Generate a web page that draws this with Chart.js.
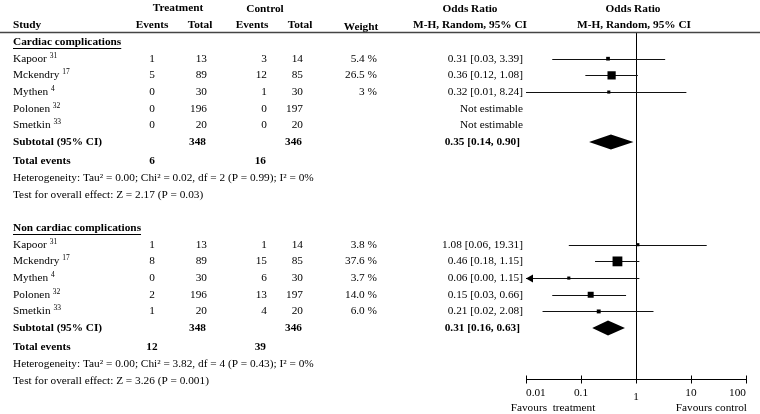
<!DOCTYPE html>
<html>
<head>
<meta charset="utf-8">
<script src="https://cdn.jsdelivr.net/npm/chart.js@4.4.1/dist/chart.umd.min.js"></script>
<style>
  html, body { margin: 0; padding: 0; background: #fff; }
  #wrap { width: 760px; height: 414px; }
</style>
</head>
<body>
<div id="wrap"><canvas id="forest"></canvas></div>
<script>
// trials (same five in both subgroups)
const studies = ['Kapoor', 'Mckendry', 'Mythen', 'Polonen', 'Smetkin'];
const studyRefs = ['31', '17', '4', '32', '33'];

// Cardiac complications
const cardTrtEvents = [1, 5, 0, 0, 0];
const cardTrtTotal = [13, 89, 30, 196, 20];
const cardCtlEvents = [3, 12, 1, 0, 0];
const cardCtlTotal = [14, 85, 30, 197, 20];
const cardWeight = [5.4, 26.5, 3, null, null];
const cardWeightLabels = ['5.4 %', '26.5 %', '3 %', '', ''];
const cardOR = [0.31, 0.36, 0.32, null, null];
const cardLow = [0.03, 0.12, 0.01, null, null];
const cardHigh = [3.39, 1.08, 8.24, null, null];
const cardPooled = [0.35, 0.14, 0.90];          // OR, low, high
const cardTotals = [348, 346];
const cardTotalEvents = [6, 16];
const cardHetero = 'Heterogeneity: Tau² = 0.00; Chi² = 0.02, df = 2 (P = 0.99); I² = 0%';
const cardEffect = 'Test for overall effect: Z = 2.17 (P = 0.03)';

// Non cardiac complications
const nonTrtEvents = [1, 8, 0, 2, 1];
const nonTrtTotal = [13, 89, 30, 196, 20];
const nonCtlEvents = [1, 15, 6, 13, 4];
const nonCtlTotal = [14, 85, 30, 197, 20];
const nonWeight = [3.8, 37.6, 3.7, 14.0, 6.0];
const nonWeightLabels = ['3.8 %', '37.6 %', '3.7 %', '14.0 %', '6.0 %'];
const nonOR = [1.08, 0.46, 0.06, 0.15, 0.21];
const nonLow = [0.06, 0.18, 0.00, 0.03, 0.02];
const nonHigh = [19.31, 1.15, 1.15, 0.66, 2.08];
const nonPooled = [0.31, 0.16, 0.63];
const nonTotals = [348, 346];
const nonTotalEvents = [12, 39];
const nonHetero = 'Heterogeneity: Tau² = 0.00; Chi² = 3.82, df = 4 (P = 0.43); I² = 0%';
const nonEffect = 'Test for overall effect: Z = 3.26 (P = 0.001)';

const axisTicks = [0.01, 0.1, 1, 10, 100];
const axisTickLabels = ['0.01', '0.1', '1', '10', '100'];

// layout: row positions in "line" units (y scale), column x in px
function rowsFrom(h) {
  return {
    heading: h,
    studies: [h + 1, h + 2, h + 3, h + 4, h + 5],
    subtotal: h + 6,
    events: h + 7.15,
    hetero: h + 8.15,
    effect: h + 9.15
  };
}
const sections = [
  {
    title: 'Cardiac complications', rows: rowsFrom(0.6),
    te: cardTrtEvents, tt: cardTrtTotal, ce: cardCtlEvents, ct: cardCtlTotal,
    w: cardWeight, wl: cardWeightLabels, or: cardOR, lo: cardLow, hi: cardHigh,
    pooled: cardPooled, totals: cardTotals, totEv: cardTotalEvents,
    hetero: cardHetero, effect: cardEffect
  },
  {
    title: 'Non cardiac complications', rows: rowsFrom(11.75),
    te: nonTrtEvents, tt: nonTrtTotal, ce: nonCtlEvents, ct: nonCtlTotal,
    w: nonWeight, wl: nonWeightLabels, or: nonOR, lo: nonLow, hi: nonHigh,
    pooled: nonPooled, totals: nonTotals, totEv: nonTotalEvents,
    hetero: nonHetero, effect: nonEffect
  }
];

const col = { study: 13, te: 152, tt: 207, ce: 267, ct: 303, w: 377, orTxt: 523 };
const FONT = '"Liberation Serif", "Times New Roman", serif';
const FS = 11.3;

function txt(ctx, s, x, y, align, bold, size) {
  ctx.font = (bold ? 'bold ' : '') + (size || FS) + 'px ' + FONT;
  ctx.textAlign = align || 'left';
  ctx.textBaseline = 'middle';
  ctx.fillStyle = '#000';
  ctx.fillText(s, x, y);
  return ctx.measureText(s).width;
}

function fmtCI(or, lo, hi) {
  if (or == null) return 'Not estimable';
  return or.toFixed(2) + ' [' + lo.toFixed(2) + ', ' + hi.toFixed(2) + ']';
}

const forestPlugin = {
  id: 'forest',
  beforeDatasetsDraw(chart) {
    const { ctx, chartArea, scales: { x, y } } = chart;
    ctx.save();
    // line of no effect
    const x1 = Math.round(x.getPixelForValue(1)) + 0.5;
    ctx.strokeStyle = '#000';
    ctx.lineWidth = 1;
    ctx.beginPath();
    ctx.moveTo(x1, chartArea.top);
    ctx.lineTo(x1, chartArea.bottom);
    ctx.stroke();

    // confidence intervals
    ctx.strokeStyle = '#111';
    sections.forEach(sec => {
      sec.or.forEach((v, i) => {
        if (v == null) return;
        const yy = Math.round(y.getPixelForValue(sec.rows.studies[i])) + 0.5;
        const xa = x.getPixelForValue(Math.max(sec.lo[i], x.min));
        const xb = x.getPixelForValue(Math.min(sec.hi[i], x.max));
        ctx.beginPath();
        ctx.moveTo(xa, yy);
        ctx.lineTo(xb, yy);
        ctx.stroke();
        if (sec.lo[i] < x.min) {
          ctx.fillStyle = '#000';
          ctx.beginPath();
          ctx.moveTo(xa, yy);
          ctx.lineTo(xa + 7, yy - 4);
          ctx.lineTo(xa + 7, yy + 4);
          ctx.closePath();
          ctx.fill();
        }
      });
    });
    ctx.restore();
  },
  afterDraw(chart) {
    const { ctx, scales: { x, y } } = chart;
    ctx.save();

    // header
    txt(ctx, 'Treatment', 178, 8, 'center', true);
    txt(ctx, 'Control', 265, 9, 'center', true);
    txt(ctx, 'Odds Ratio', 470, 9, 'center', true);
    txt(ctx, 'Odds Ratio', 633, 9, 'center', true);
    txt(ctx, 'Study', col.study, 25, 'left', true);
    txt(ctx, 'Events', 152, 25, 'center', true);
    txt(ctx, 'Total', 200, 25, 'center', true);
    txt(ctx, 'Events', 252, 25, 'center', true);
    txt(ctx, 'Total', 300, 25, 'center', true);
    txt(ctx, 'Weight', 361, 27, 'center', true);
    txt(ctx, 'M-H, Random, 95% CI', 470, 25, 'center', true);
    txt(ctx, 'M-H, Random, 95% CI', 634, 25, 'center', true);
    ctx.strokeStyle = '#444';
    ctx.lineWidth = 1.5;
    ctx.beginPath();
    ctx.moveTo(0, 32.5);
    ctx.lineTo(760, 32.5);
    ctx.stroke();

    sections.forEach(sec => {
      const r = sec.rows;
      const yh = y.getPixelForValue(r.heading);
      const wTitle = txt(ctx, sec.title, col.study, yh, 'left', true);
      ctx.strokeStyle = '#000';
      ctx.lineWidth = 1;
      ctx.beginPath();
      ctx.moveTo(col.study, Math.round(yh + 6) + 0.5);
      ctx.lineTo(col.study + wTitle, Math.round(yh + 6) + 0.5);
      ctx.stroke();

      studies.forEach((name, i) => {
        const yy = y.getPixelForValue(r.studies[i]);
        const wn = txt(ctx, name + ' ', col.study, yy, 'left', false);
        txt(ctx, studyRefs[i], col.study + wn, yy - 3, 'left', false, 7.5);
        txt(ctx, String(sec.te[i]), col.te, yy, 'center');
        txt(ctx, String(sec.tt[i]), col.tt, yy, 'right');
        txt(ctx, String(sec.ce[i]), col.ce, yy, 'right');
        txt(ctx, String(sec.ct[i]), col.ct, yy, 'right');
        if (sec.wl[i]) txt(ctx, sec.wl[i], col.w, yy, 'right');
        txt(ctx, fmtCI(sec.or[i], sec.lo[i], sec.hi[i]), col.orTxt, yy, 'right');
      });

      const ys = y.getPixelForValue(r.subtotal);
      txt(ctx, 'Subtotal (95% CI)', col.study, ys, 'left', true);
      txt(ctx, String(sec.totals[0]), col.tt - 1, ys, 'right', true);
      txt(ctx, String(sec.totals[1]), col.ct - 1, ys, 'right', true);
      txt(ctx, fmtCI(sec.pooled[0], sec.pooled[1], sec.pooled[2]), col.orTxt - 3, ys, 'right', true);

      // pooled diamond
      const dl = x.getPixelForValue(sec.pooled[1]);
      const dm = x.getPixelForValue(sec.pooled[0]);
      const dr = x.getPixelForValue(sec.pooled[2]);
      ctx.fillStyle = '#000';
      ctx.beginPath();
      ctx.moveTo(dl, ys);
      ctx.lineTo(dm, ys - 7.5);
      ctx.lineTo(dr, ys);
      ctx.lineTo(dm, ys + 7.5);
      ctx.closePath();
      ctx.fill();

      const ye = y.getPixelForValue(r.events);
      txt(ctx, 'Total events', col.study, ye, 'left', true);
      txt(ctx, String(sec.totEv[0]), col.te, ye, 'center', true);
      txt(ctx, String(sec.totEv[1]), col.ce - 1, ye, 'right', true);
      txt(ctx, sec.hetero, col.study, y.getPixelForValue(r.hetero), 'left');
      txt(ctx, sec.effect, col.study, y.getPixelForValue(r.effect), 'left');
    });

    // x axis
    const ya = Math.round(chart.chartArea.bottom) + 0.5;
    const xs = x.getPixelForValue(axisTicks[0]);
    const xe = x.getPixelForValue(axisTicks[axisTicks.length - 1]);
    ctx.strokeStyle = '#000';
    ctx.lineWidth = 1;
    ctx.beginPath();
    ctx.moveTo(xs, ya);
    ctx.lineTo(xe, ya);
    axisTicks.forEach(t => {
      const xt = Math.round(x.getPixelForValue(t)) + 0.5;
      ctx.moveTo(xt, ya - 4);
      ctx.lineTo(xt, ya + 4);
    });
    ctx.stroke();
    axisTicks.forEach((t, i) => {
      const xt = x.getPixelForValue(t);
      let align = 'center';
      if (i === 0) align = 'left';
      if (i === axisTicks.length - 1) align = 'right';
      txt(ctx, axisTickLabels[i], xt, t === 1 ? ya + 18 : ya + 14, align);
    });
    txt(ctx, 'Favours  treatment', 553, ya + 29, 'center');
    txt(ctx, 'Favours control', xe + 1, ya + 29, 'right');
    ctx.restore();
  }
};

// study squares, box size grows with weight
const pointData = [];
const pointSizes = [];
sections.forEach(sec => {
  sec.or.forEach((v, i) => {
    if (v == null) return;
    pointData.push({ x: v, y: sec.rows.studies[i] });
    pointSizes.push(Math.max(2.2, 1.13 * Math.sqrt(sec.w[i])));
  });
});

const ctx = document.getElementById('forest').getContext('2d');
const forestChart = new Chart(ctx, {
  type: 'scatter',
  data: {
    datasets: [{
      data: pointData,
      pointStyle: 'rect',
      pointRadius: pointSizes,
      backgroundColor: '#000',
      borderWidth: 0,
      clip: false
    }]
  },
  options: {
    responsive: true,
    maintainAspectRatio: false,
    animation: false,
    events: [],
    layout: { padding: { left: 526, right: 14, top: 32, bottom: 35 } },
    scales: {
      x: { type: 'logarithmic', min: 0.01, max: 100, display: false },
      y: { type: 'linear', min: 0, max: 20.8, reverse: true, display: false }
    },
    plugins: {
      legend: { display: false },
      tooltip: { enabled: false }
    }
  },
  plugins: [forestPlugin]
});
</script>
</body>
</html>
